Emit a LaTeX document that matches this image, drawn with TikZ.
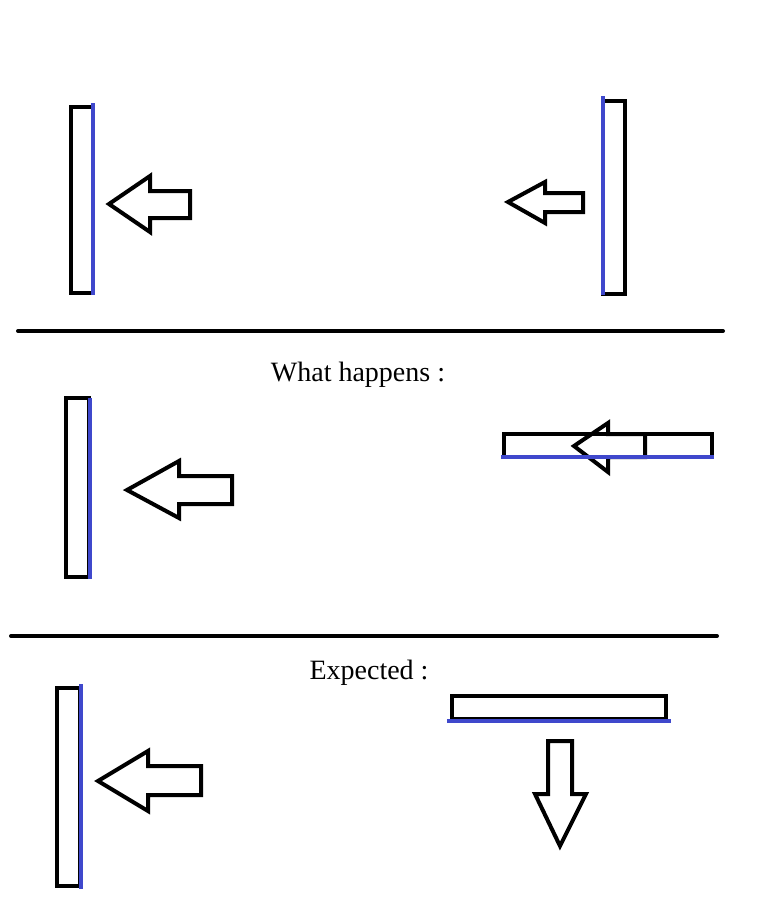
\documentclass[tikz,border=0pt]{standalone}
\usepackage{fontspec}
\setmainfont{Liberation Serif}
\definecolor{wallblue}{HTML}{3F48CC}
\tikzset{
  wall/.style={draw=black, line width=4pt},
  face/.style={draw=wallblue, line width=3.5pt},
  arr/.style={draw=black, line width=4pt, line join=miter},
  sep/.style={draw=black, line width=4pt, line cap=round},
  lbl/.style={font=\fontsize{28}{32}\selectfont, inner sep=0pt, anchor=base}
}
\begin{document}
\begin{tikzpicture}[x=1pt, y=-1pt]
\useasboundingbox (0,0) rectangle (761,906);
% ---------- panel 1 ----------
\draw[wall] (71,107) rectangle (93,293);
\draw[face] (93,103) -- (93,295);
\draw[arr] (109,204) -- (150,176) -- (150,191) -- (190,191) -- (190,218) -- (150,218) -- (150,232) -- cycle;
\draw[wall] (603,101) rectangle (625,294);
\draw[face] (603,96) -- (603,295);
\draw[arr] (508,202) -- (545,182) -- (545,193) -- (583,193) -- (583,212) -- (545,212) -- (545,223) -- cycle;
\draw[sep] (18,331) -- (723,331);
\node[lbl] (t1) at (358,381) {What happens :};
% ---------- panel 2 ----------
\draw[wall] (66,398) rectangle (89,577);
\draw[face] (90,398) -- (90,579);
\draw[arr] (127,490) -- (179,461) -- (179,476) -- (232,476) -- (232,504) -- (179,504) -- (179,518) -- cycle;
\draw[wall] (504,434) rectangle (712,457);
\draw[arr] (574,446) -- (608,423) -- (608,434) -- (645,434) -- (645,457) -- (608,457) -- (608,472) -- cycle;
\draw[face] (501,457) -- (714,457);
\draw[sep] (11,636) -- (717,636);
\node[lbl] (t2) at (369,679) {Expected :};
% ---------- panel 3 ----------
\draw[wall] (57,688) rectangle (80,886);
\draw[face] (81,684) -- (81,889);
\draw[arr] (98,781) -- (148,751) -- (148,766) -- (201,766) -- (201,795) -- (148,795) -- (148,811) -- cycle;
\draw[wall] (452,696) rectangle (666,719);
\draw[face] (447,721) -- (671,721);
\draw[arr] (548,741) -- (572,741) -- (572,794) -- (586,794) -- (560,846) -- (535,794) -- (548,794) -- cycle;
\end{tikzpicture}
\end{document}
